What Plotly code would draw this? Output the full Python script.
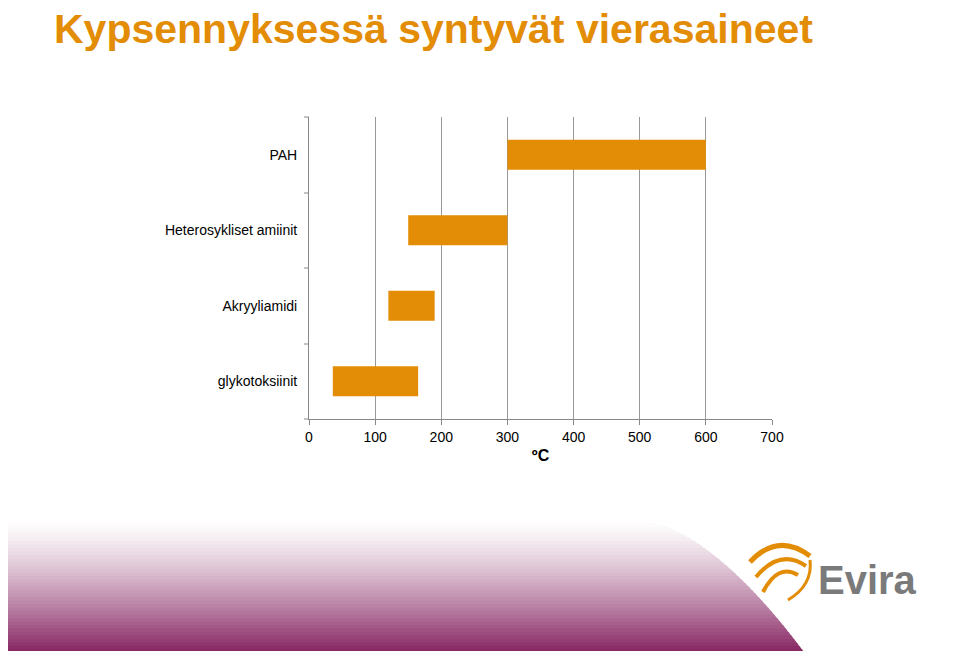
import plotly.graph_objects as go

categories = ["glykotoksiinit", "Akryyliamidi", "Heterosykliset amiinit", "PAH"]
start_temp = [36, 120, 150, 300]
end_temp = [165, 190, 300, 600]
tick_vals = [0, 100, 200, 300, 400, 500, 600, 700]

ORANGE = "#E38C05"

# plot area in screen pixels: x 309..772, y 117..419 (page has 8px body offset)
L, R, T, B = 309, 772, 117, 419
OFF = 8


def px(x):
    return (x - L) / (R - L)


def py(y):
    return (B - y) / (B - T)


fig = go.Figure(
    go.Bar(
        y=categories,
        x=[e - s for s, e in zip(start_temp, end_temp)],
        base=start_temp,
        orientation="h",
        width=0.4,
        marker=dict(color=ORANGE, line=dict(width=0)),
        hoverinfo="skip",
    )
)

shapes = []
# purple gradient at the bottom
n = 40
top, bot = 520, 660
c0 = (255, 255, 255)
c1 = (125, 20, 85)
for i in range(n):
    y0 = top + (bot - top) * i / n
    y1 = top + (bot - top) * (i + 1) / n
    t = (i + 0.5) / n
    col = tuple(int(c0[k] + (c1[k] - c0[k]) * t ** 1.3) for k in range(3))
    xr0 = 640 + 170 * ((y0 - top) / (bot - top)) ** 0.6
    xr1 = 640 + 170 * ((y1 - top) / (bot - top)) ** 0.6
    path = "M {a},{b} L {c},{b} L {d},{e} L {a},{e} Z".format(
        a=px(5), b=py(y0), c=px(xr0), d=px(xr1), e=py(y1 + 0.5)
    )
    shapes.append(dict(type="path", xref="paper", yref="paper", path=path,
                       fillcolor="rgb(%d,%d,%d)" % col, line=dict(width=0), layer="below"))

# logo swirl
for (sx, sy, ex, ey, cx, cy, w) in [
    (750, 562, 810, 556, 778, 532, 5),
    (756, 577, 806, 566, 780, 548, 4),
    (763, 592, 798, 575, 778, 563, 4),
    (788, 600, 810, 560, 813, 585, 3),
]:
    path = "M {},{} Q {},{} {},{}".format(px(sx), py(sy), px(cx), py(cy), px(ex), py(ey))
    shapes.append(dict(type="path", xref="paper", yref="paper", path=path,
                       line=dict(color=ORANGE, width=w)))

# y-axis category boundary ticks
for yb in [117, 193, 268, 344, 419]:
    shapes.append(dict(type="line", xref="paper", yref="paper",
                       x0=px(304), x1=px(309), y0=py(yb), y1=py(yb),
                       line=dict(color="#888888", width=1)))

fig.update_layout(
    width=960,
    height=651,
    margin=dict(l=L - OFF, r=960 + OFF - R, t=T - OFF, b=651 + OFF - B),
    plot_bgcolor="white",
    paper_bgcolor="white",
    showlegend=False,
    font=dict(family="Liberation Sans, Arial", size=14, color="black"),
    shapes=shapes,
    annotations=[
        dict(text="<b>Kypsennyksessä syntyvät vierasaineet</b>", xref="paper", yref="paper",
             x=px(52), y=py(4), xanchor="left", yanchor="top", showarrow=False,
             font=dict(size=41, color=ORANGE, family="Liberation Sans, Arial")),
        dict(text="<b>Evira</b>", xref="paper", yref="paper",
             x=px(816), y=py(580), xanchor="left", yanchor="middle", showarrow=False,
             font=dict(size=40, color="#7a7a7a", family="Liberation Sans, Arial")),
    ],
)

fig.update_xaxes(
    range=[0, 700],
    tickvals=tick_vals,
    ticks="outside",
    ticklen=5,
    tickcolor="#888888",
    showgrid=True,
    gridcolor="#999999",
    showline=True,
    linecolor="#888888",
    zeroline=False,
    title=dict(text="<b>ºC</b>", font=dict(size=16), standoff=6),
)
fig.update_yaxes(
    showgrid=False,
    showline=True,
    linecolor="#888888",
    ticks="",
    ticklabelstandoff=8,
)

fig.write_html("out.html")
